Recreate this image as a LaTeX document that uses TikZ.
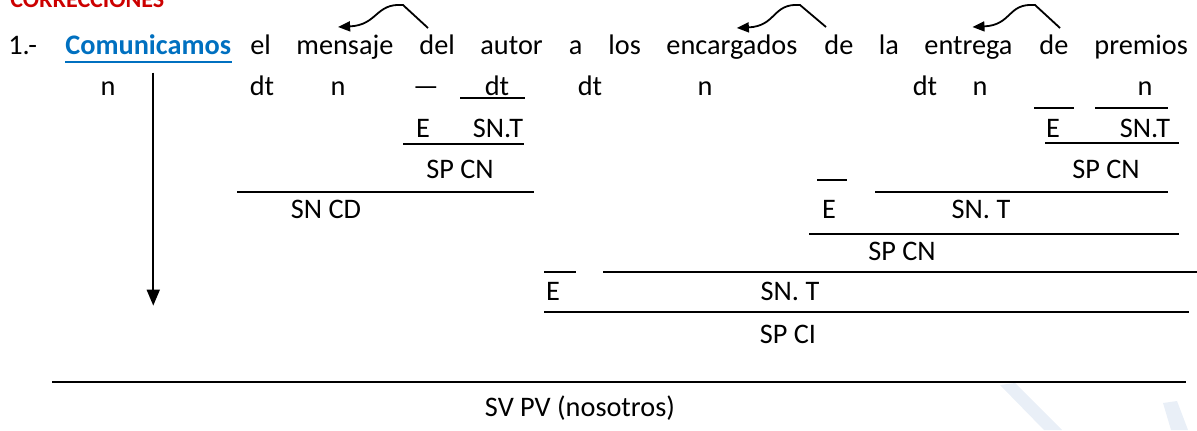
\documentclass[tikz,border=0pt]{standalone}
\usepackage{fontspec}
\setmainfont{Carlito}
\usetikzlibrary{arrows.meta}

\definecolor{linkblue}{RGB}{0,112,192}
\definecolor{headred}{RGB}{204,0,0}
\definecolor{wmark}{RGB}{233,239,247}

\tikzset{
    word/.style={anchor=base west, inner sep=0pt},
    lab/.style={anchor=base, inner sep=0pt},
    rule/.style={line width=0.85pt},
    link/.style={line width=0.9pt, -{Triangle[length=6pt, width=5pt]}},
    down/.style={line width=0.9pt, -{Triangle[length=8pt, width=6.5pt]}}
}

\begin{document}
\begin{tikzpicture}[x=0.5pt, y=-0.5pt, font=\fontsize{14.15}{17}\selectfont]
    \useasboundingbox (0, 0) rectangle (1197, 430);

    % marca de agua
    \fill [wmark] (1000, 385) -- (1015, 383) -- (1062, 430) -- (1044, 430) -- cycle;
    \fill [wmark] (1163, 403) -- (1177, 401) -- (1188, 430) -- (1171, 430) -- cycle;

    % titulo (cortado arriba)
    \node [word, text=headred, font=\bfseries\fontsize{12}{14}\selectfont] (titulo) at (10, 7) {CORRECCIONES};

    % oracion
    \node [word] (num) at (8, 54) {1.-};
    \node [word, text=linkblue, font=\bfseries\fontsize{14.15}{17}\selectfont] (comunicamos) at (65, 54) {Comunicamos};
    \draw [linkblue, line width=1pt] ([yshift=-4pt]comunicamos.base west) -- ([yshift=-4pt]comunicamos.base east);
    \node [word] (el) at (250, 54) {el};
    \node [word] (mensaje) at (296, 54) {mensaje};
    \node [word] (del) at (419, 54) {del};
    \node [word] (autor) at (480, 54) {autor};
    \node [word] (a) at (568.5, 54) {a};
    \node [word] (los) at (608, 54) {los};
    \node [word] (encargados) at (666, 54) {encargados};
    \node [word] (de1) at (824, 54) {de};
    \node [word] (la) at (878.5, 54) {la};
    \node [word] (entrega) at (924, 54) {entrega};
    \node [word] (de2) at (1039, 54) {de};
    \node [word] (premios) at (1094, 54) {premios};

    % flechas de arriba
    \draw [link] ([xshift=4.5pt, yshift=13pt]del.base west) -- ++(-25, -23)
        .. controls +(-28, -2) and +(40, -2) .. ([xshift=-3.4pt, yshift=13.5pt]mensaje.base);
    \draw [link] ([xshift=1pt, yshift=13.5pt]de1.base west) -- ++(-26, -22)
        .. controls +(-28, -2) and +(40, -2) .. ([xshift=2.5pt, yshift=13pt]encargados.base);
    \draw [link] ([xshift=10.5pt, yshift=13pt]de2.base west) -- ++(-25, -23)
        .. controls +(-28, -2) and +(40, -2) .. ([xshift=2pt, yshift=13.5pt]entrega.base);

    % fila 2
    \node [lab] (n1) at (108, 95) {n};
    \draw [down] ([xshift=2.5pt, yshift=-9pt]comunicamos.south) -- ++(0, 233);
    \node [lab] (dt1) at (262, 95) {dt};
    \node [lab] (n2) at (338, 95) {n};
    \node [lab] (raya) at (426, 95) {—};
    \node [lab] (dt2) at (497, 95) {dt};
    \draw [rule] (460, 98) -- (525, 98);
    \node [lab] (dt3) at (590, 95) {dt};
    \node [lab] (n3) at (705, 95) {n};
    \node [lab] (dt4) at (925, 95) {dt};
    \node [lab] (n4) at (980, 95) {n};
    \node [lab] (n5) at (1145, 95) {n};
    \draw [rule] (1034, 108) -- (1074, 108);
    \draw [rule] (1095, 108) -- (1168, 108);

    % fila 3
    \node [lab] (e1) at (423, 137) {E};
    \node [lab] (snt1) at (498, 137) {SN.T};
    \draw [rule] (403, 144) -- (524, 144);
    \node [lab] (e2) at (1053, 137) {E};
    \node [lab] (snt2) at (1145, 137) {SN.T};
    \draw [rule] (1045, 143) -- (1179, 143);

    % fila 4
    \node [lab] (spcn1) at (460, 178) {SP CN};
    \draw [rule] (237, 192) -- (534, 192);
    \node [lab] (spcn2) at (1106, 178) {SP CN};
    \draw [rule] (817, 180) -- (847, 180);
    \draw [rule] (875, 192) -- (1168, 192);

    % fila 5
    \node [lab] (sncd) at (326, 218) {SN CD};
    \node [lab] (e3) at (829, 218) {E};
    \node [lab] (snt3) at (981, 218) {SN. T};
    \draw [rule] (809, 234) -- (1179, 234);

    % fila 6
    \node [lab] (spcn3) at (902, 260) {SP CN};
    \draw [rule] (544, 272) -- (576, 272);
    \draw [rule] (603, 272) -- (1197, 272);

    % fila 7
    \node [lab] (e4) at (553, 300) {E};
    \node [lab] (snt4) at (790, 300) {SN. T};
    \draw [rule] (544, 312) -- (1189, 312);

    % fila 8
    \node [lab] (spci) at (788, 343) {SP CI};

    % predicado
    \draw [rule] (52, 382) -- (1186, 382);
    \node [lab] (svpv) at (580, 416) {SV PV (nosotros)};

\end{tikzpicture}
\end{document}
